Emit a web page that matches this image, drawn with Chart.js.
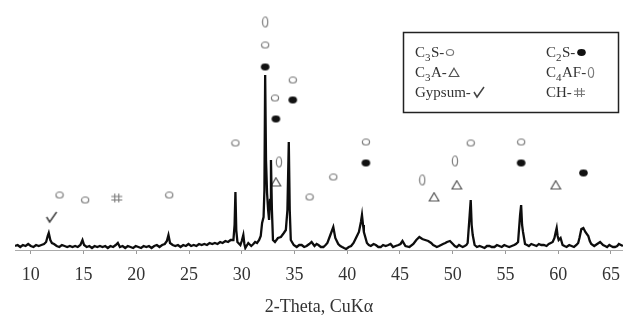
<!DOCTYPE html>
<html>
<head>
<meta charset="utf-8">
<script src="https://cdn.jsdelivr.net/npm/chart.js@4/dist/chart.umd.min.js"></script>
<style>
html,body{margin:0;padding:0;background:#fff;}
#wrap{width:630px;height:326px;}
</style>
</head>
<body>
<div id="wrap"><canvas id="c" width="630" height="326"></canvas></div>
<script>
// ---- Data ----
const TWO_THETA = [
  8.50,8.75,9.00,9.25,9.50,9.75,10.00,10.25,10.50,10.75,11.00,11.25,11.45,11.60,11.70,11.85,12.00,12.20,12.45,12.70,
  12.95,13.20,13.45,13.70,13.95,14.20,14.45,14.70,14.90,15.05,15.30,15.55,15.80,16.05,16.30,16.55,16.80,17.05,17.30,17.55,
  17.80,18.05,18.25,18.45,18.70,18.95,19.20,19.45,19.70,19.95,20.20,20.45,20.70,20.95,21.20,21.45,21.70,21.95,22.20,22.45,
  22.70,22.90,23.05,23.20,23.45,23.70,23.95,24.20,24.45,24.70,24.95,25.20,25.45,25.70,25.95,26.20,26.45,26.70,26.95,27.20,
  27.45,27.70,27.95,28.18,28.45,28.70,28.95,29.21,29.32,29.40,29.48,29.59,29.87,30.00,30.15,30.25,30.34,30.62,30.90,31.10,
  31.27,31.45,31.65,31.80,31.93,32.07,32.15,32.22,32.30,32.40,32.50,32.59,32.68,32.77,32.86,32.96,33.15,33.43,33.71,33.99,
  34.18,34.33,34.46,34.55,34.65,34.93,35.21,35.45,35.68,35.92,36.15,36.40,36.62,36.90,37.10,37.27,37.50,37.74,37.95,38.12,
  38.40,38.68,38.87,39.15,39.35,39.52,39.70,39.90,40.15,40.37,40.60,40.83,41.11,41.30,41.40,41.50,41.58,41.87,42.05,42.24,
  42.50,42.71,42.95,43.18,43.40,43.65,43.90,44.11,44.35,44.58,44.86,45.05,45.24,45.52,45.90,46.27,46.55,46.84,47.12,47.39,
  47.68,47.96,48.15,48.33,48.50,48.71,48.90,49.08,49.30,49.46,49.74,50.02,50.20,50.39,50.60,50.77,50.95,51.14,51.30,51.42,
  51.61,51.71,51.80,51.90,52.08,52.30,52.55,52.80,53.02,53.25,53.49,53.70,53.96,54.20,54.42,54.65,54.89,55.10,55.36,55.60,
  55.83,56.00,56.20,56.39,56.49,56.58,56.67,56.86,57.05,57.23,57.45,57.70,57.95,58.17,58.40,58.64,58.90,59.11,59.30,59.48,
  59.65,59.77,59.86,59.95,60.05,60.23,60.42,60.60,60.80,61.05,61.27,61.50,61.73,61.90,62.02,62.20,62.39,62.58,62.86,63.00,
  63.14,63.42,63.70,63.98,64.26,64.45,64.64,64.85,65.01,65.20,65.39,65.60,65.76,65.95,66.14
];
const INTENSITY = [
  4,5,3,5,4,6,4,3,5,4,5,6,8,14,17,10,7,6,4,3,
  5,4,3,4,3,4,3,5,10,5,3,4,2,4,3,4,3,4,2,4,
  3,5,7,3,4,2,4,3,2,4,3,2,4,3,4,2,4,5,3,5,
  6,9,15,7,5,4,5,3,5,4,6,4,5,4,6,5,6,5,7,6,
  7,6,8,7,9,8,10,10,25,58,20,8,5,9,15,6,2,7,4,6,
  8,7,10,14,27,33,60,175,90,57,40,30,50,90,40,10,8,12,13,17,
  20,40,108,40,10,5,3,5,5,3,4,6,8,4,6,5,3,3,5,7,
  15,23,12,6,4,3,2,1,3,4,7,12,18,28,35,25,18,7,5,4,
  6,5,3,3,5,4,5,6,3,4,5,6,9,4,3,6,10,13,11,10,
  9,7,5,4,3,4,5,6,7,8,9,6,4,3,5,4,3,4,5,7,
  35,50,25,15,5,3,4,3,2,4,4,3,3,5,4,3,5,4,3,4,
  5,6,8,35,45,25,18,6,5,4,6,5,4,6,5,5,4,6,7,8,
  12,18,22,14,10,12,5,4,3,5,4,3,5,7,12,21,22,18,14,9,
  6,4,6,8,5,4,3,5,4,3,3,4,6,5,4
];
const X_TICKS = [10,15,20,25,30,35,40,45,50,55,60,65];
const X_TITLE = '2-Theta, CuK\u03b1';

// peak annotations (2θ, height in plot units)
const C3S_X  = [32.22,34.84,33.15,29.40,36.43,41.77,51.71,56.49,12.72,15.15,23.12,38.68];
const C3S_Y  = [205,170,152,107,53,108,107,108,55,50,55,73];
const C2S_X  = [32.22,34.84,33.24,41.77,56.49,62.40];
const C2S_Y  = [183,150,131,87,87,77];
const C3A_X  = [33.24,48.24,50.39,59.77];
const C3A_Y  = [68,53,65,65];
const C4AF_X = [32.22,33.52,50.21,47.11];
const C4AF_Y = [228,88,89,70];
const GYP_X  = [11.97];
const GYP_Y  = [33];
const CH_X   = [18.15];
const CH_Y   = [52];

const LEGEND_LABELS = ['C_3S-','C_2S-','C_3A-','C_4AF-','Gypsum-','CH-'];
const LEGEND_KEYS   = ['open','filled','tri','oval','check','hash'];

// ---- symbol canvases ----
function mk(w,h,fn){const c=document.createElement('canvas');c.width=w;c.height=h;const g=c.getContext('2d');fn(g,w,h);return c;}
const SYM = {
  open: mk(10,9,(g,w,h)=>{g.strokeStyle='#7a7a7a';g.lineWidth=1.2;g.beginPath();g.ellipse(w/2,h/2,3.6,3.0,0,0,Math.PI*2);g.stroke();}),
  filled: mk(11,9,(g,w,h)=>{g.fillStyle='#111';g.beginPath();g.ellipse(w/2,h/2,4.3,3.4,0,0,Math.PI*2);g.fill();}),
  tri: mk(12,11,(g,w,h)=>{g.strokeStyle='#555';g.lineWidth=1.2;g.beginPath();g.moveTo(w/2,1.2);g.lineTo(w-1.2,h-1.5);g.lineTo(1.2,h-1.5);g.closePath();g.stroke();}),
  oval: mk(8,13,(g,w,h)=>{g.strokeStyle='#7a7a7a';g.lineWidth=1.2;g.beginPath();g.ellipse(w/2,h/2,2.6,5,0,0,Math.PI*2);g.stroke();}),
  check: mk(14,14,(g,w,h)=>{g.strokeStyle='#444';g.lineWidth=1.5;g.beginPath();g.moveTo(2,7);g.lineTo(5,12);g.lineTo(12,2);g.stroke();}),
  hash: mk(13,11,(g,w,h)=>{g.strokeStyle='#777';g.lineWidth=1.1;g.beginPath();
        g.moveTo(1,4);g.lineTo(12,4);g.moveTo(1,7.5);g.lineTo(12,7.5);
        g.moveTo(4.5,1);g.lineTo(4.5,10);g.moveTo(8.5,1);g.lineTo(8.5,10);g.stroke();})
};

function pts(xs,ys){return xs.map((x,i)=>({x:x,y:ys[i]}));}
function markerSet(label,xs,ys,key){
  return {label:label,data:pts(xs,ys),showLine:false,pointStyle:SYM[key],pointRadius:5,pointHoverRadius:5,
          borderColor:'rgba(0,0,0,0)',backgroundColor:'rgba(0,0,0,0)'};
}

// ---- legend box plugin ----
function drawRich(ctx,text,x,y){
  let cx=x;
  for(let i=0;i<text.length;i++){
    if(text[i]==='_'){
      ctx.font='11px "Liberation Serif", serif';
      ctx.fillText(text[i+1],cx,y+3.5);
      cx+=ctx.measureText(text[i+1]).width+0.5; i++;
    } else {
      ctx.font='15px "Liberation Serif", serif';
      ctx.fillText(text[i],cx,y);
      cx+=ctx.measureText(text[i]).width;
    }
  }
  return cx;
}
const legendBox = {
  id:'legendBox',
  afterDraw(chart){
    const ctx=chart.ctx;ctx.save();
    ctx.strokeStyle='#222';ctx.lineWidth=1.5;ctx.strokeRect(403.5,32.5,215,80);
    ctx.fillStyle='#333';ctx.textBaseline='alphabetic';
    LEGEND_LABELS.forEach((lab,i)=>{
      const col=i%2,row=Math.floor(i/2);
      const x=col?546:415,y=57+row*20;
      const end=drawRich(ctx,lab,x,y);
      const s=SYM[LEGEND_KEYS[i]];
      ctx.drawImage(s,Math.round(end+1),Math.round(y-5-s.height/2));
    });
    ctx.restore();
  }
};

new Chart(document.getElementById('c'),{
  type:'line',
  data:{datasets:[
    {label:'XRD',data:pts(TWO_THETA,INTENSITY),borderColor:'#0d0d0d',borderWidth:2.3,pointRadius:0,tension:0,fill:false},
    markerSet('C3S',C3S_X,C3S_Y,'open'),
    markerSet('C2S',C2S_X,C2S_Y,'filled'),
    markerSet('C3A',C3A_X,C3A_Y,'tri'),
    markerSet('C4AF',C4AF_X,C4AF_Y,'oval'),
    markerSet('Gypsum',GYP_X,GYP_Y,'check'),
    markerSet('CH',CH_X,CH_Y,'hash')
  ]},
  options:{
    responsive:false,animation:false,devicePixelRatio:1,
    layout:{padding:{top:10,left:15,right:0,bottom:0}},
    plugins:{legend:{display:false},tooltip:{enabled:false}},
    scales:{
      x:{type:'linear',min:8.5,max:66.14,
        afterBuildTicks:s=>{s.ticks=X_TICKS.map(v=>({value:v}));},
        afterFit:s=>{s.height=76;},
        grid:{drawOnChartArea:false,drawTicks:true,tickLength:4,color:'#999'},
        border:{display:true,color:'#aaa',width:1},
        ticks:{font:{family:'"Liberation Serif", serif',size:18},color:'#333',padding:10,maxRotation:0,autoSkip:false},
        title:{display:true,text:X_TITLE,font:{family:'"Liberation Serif", serif',size:18},color:'#333',padding:{top:0,bottom:8}}
      },
      y:{display:false,min:0,max:240}
    }
  },
  plugins:[legendBox]
});
</script>
</body>
</html>
